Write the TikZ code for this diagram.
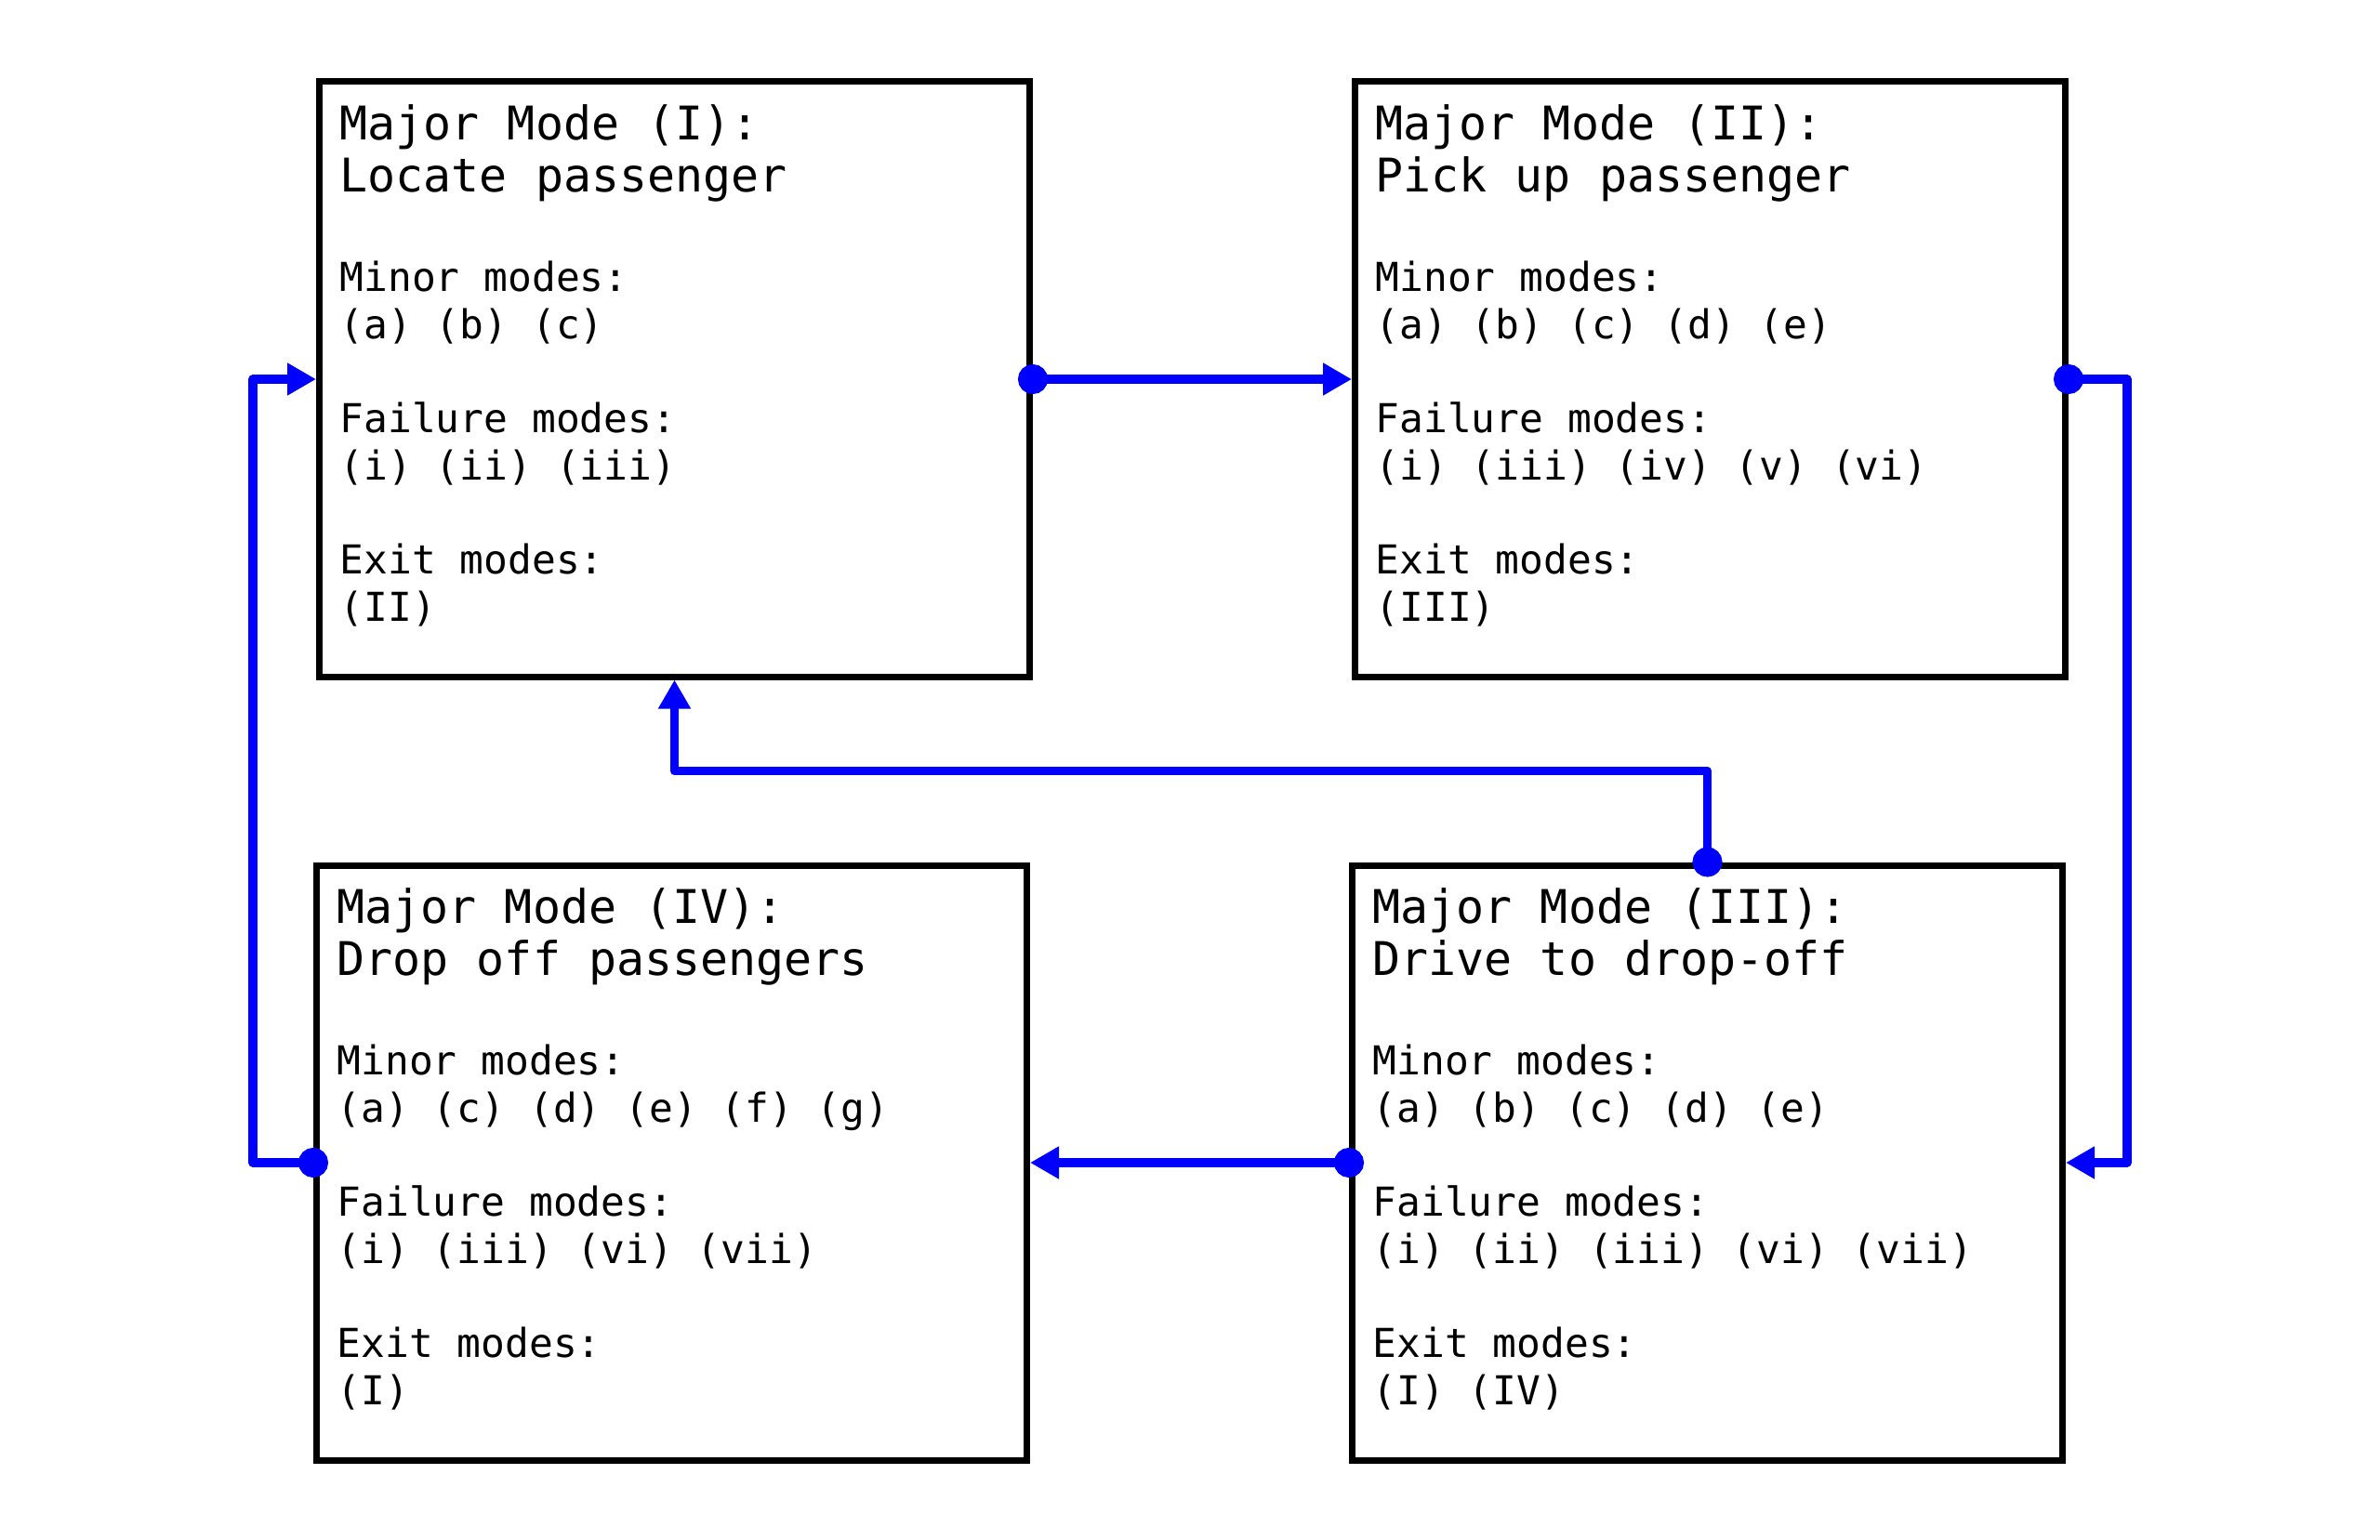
\documentclass[tikz,border=0pt]{standalone}
\usepackage{fontspec}
\newfontfamily\modefont{DejaVu Sans Mono}
\usetikzlibrary{arrows.meta,positioning}
\tikzset{
  >={Triangle[length=3.1mm,width=3.3mm]},
  modebox/.style={draw=black,line width=0.7mm,minimum width=7.64cm,minimum height=6.40cm,inner sep=0pt},
  headtxt/.style={inner sep=0pt,align=left,font=\modefont\fontsize{14.2}{15.9}\selectfont},
  bodytxt/.style={inner sep=0pt,align=left,font=\modefont\fontsize{12.2}{14.4}\selectfont},
  flow/.style={{Circle[length=3.2mm]}->,draw=blue,line width=0.95mm,line join=round,shorten <=-1.6mm},
}
\begin{document}
\begin{tikzpicture}
\useasboundingbox (0,0) rectangle (25.6,-16.57);
\node[modebox] (m1) at (7.255,-4.08) {};
\node[modebox,right=3.43cm of m1] (m2) {};
\node[modebox,below=1.96cm of m2,xshift=-0.03cm] (m3) {};
\node[modebox,below=1.96cm of m1,xshift=-0.03cm] (m4) {};
\node[headtxt,below right=0.27cm and 0.25cm of m1.north west] (h1) {Major Mode (I):\\Locate passenger};
\node[bodytxt,below right=1.96cm and 0.25cm of m1.north west] (b1) {Minor modes:\\(a) (b) (c)\\[14.4pt]Failure modes:\\(i) (ii) (iii)\\[14.4pt]Exit modes:\\(II)};
\node[headtxt,below right=0.27cm and 0.25cm of m2.north west] (h2) {Major Mode (II):\\Pick up passenger};
\node[bodytxt,below right=1.96cm and 0.25cm of m2.north west] (b2) {Minor modes:\\(a) (b) (c) (d) (e)\\[14.4pt]Failure modes:\\(i) (iii) (iv) (v) (vi)\\[14.4pt]Exit modes:\\(III)};
\node[headtxt,below right=0.27cm and 0.25cm of m3.north west] (h3) {Major Mode (III):\\Drive to drop-off};
\node[bodytxt,below right=1.96cm and 0.25cm of m3.north west] (b3) {Minor modes:\\(a) (b) (c) (d) (e)\\[14.4pt]Failure modes:\\(i) (ii) (iii) (vi) (vii)\\[14.4pt]Exit modes:\\(I) (IV)};
\node[headtxt,below right=0.27cm and 0.25cm of m4.north west] (h4) {Major Mode (IV):\\Drop off passengers};
\node[bodytxt,below right=1.96cm and 0.25cm of m4.north west] (b4) {Minor modes:\\(a) (c) (d) (e) (f) (g)\\[14.4pt]Failure modes:\\(i) (iii) (vi) (vii)\\[14.4pt]Exit modes:\\(I)};
\draw[flow] (m1.east) -- (m2.west);
\draw[flow] (m2.east) -- ++(0.63,0) |- (m3.east);
\draw[flow] (m3.west) -- (m4.east);
\draw[flow] (m4.west) -- ++(-0.65,0) |- (m1.west);
\draw[flow] (m3.north) -- ++(0,0.98) -| (m1.south);
\end{tikzpicture}
\end{document}
